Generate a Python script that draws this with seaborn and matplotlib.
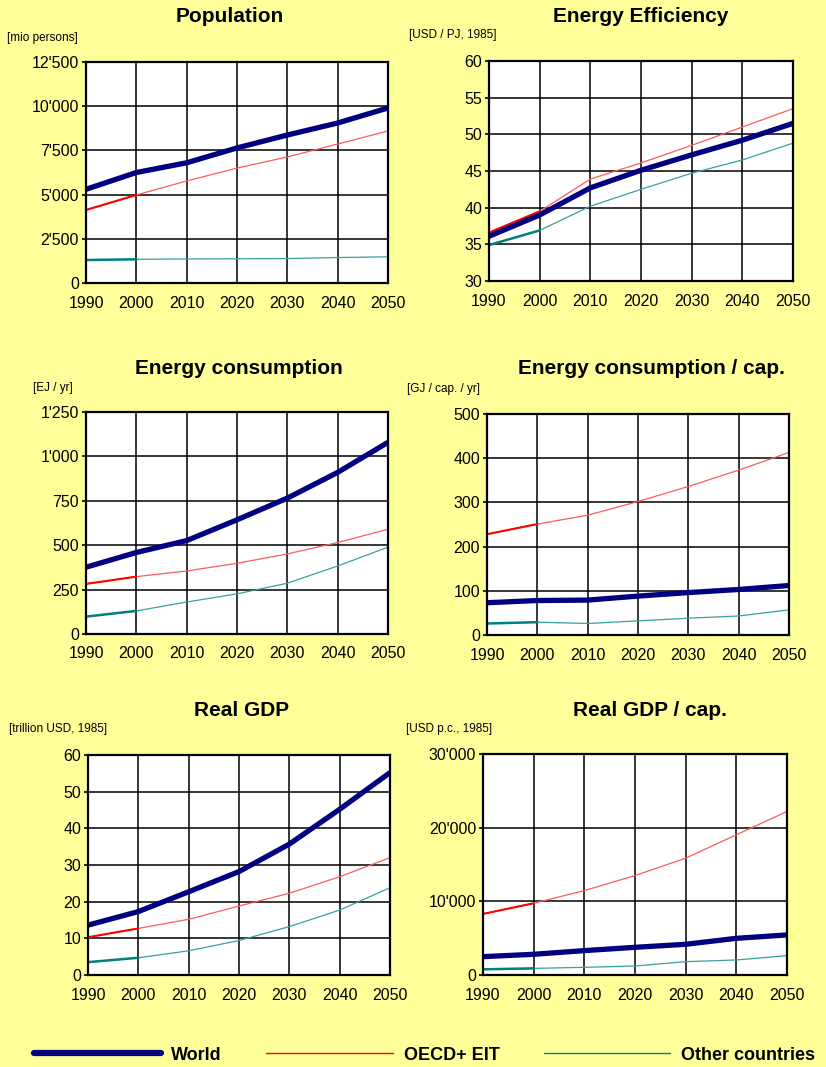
import matplotlib
matplotlib.use("Agg")
import matplotlib.pyplot as plt
from matplotlib.ticker import FuncFormatter, MultipleLocator
from matplotlib.lines import Line2D
import seaborn as sns

years = [1990, 2000, 2010, 2020, 2030, 2040, 2050]

# population [mio persons]
pop_world = [5300, 6250, 6800, 7640, 8370, 9050, 9900]
pop_oecd = [4130, 4980, 5770, 6500, 7130, 7860, 8600]
pop_other = [1300, 1340, 1360, 1370, 1380, 1440, 1480]

# energy efficiency [USD / PJ, 1985]
eff_world = [36.1, 39.0, 42.7, 45.1, 47.2, 49.2, 51.5]
eff_oecd = [36.6, 39.5, 43.9, 46.1, 48.5, 51.0, 53.5]
eff_other = [34.9, 36.9, 40.2, 42.5, 44.7, 46.5, 48.8]

# energy consumption [EJ / yr]
en_world = [376, 459, 526, 643, 765, 910, 1079]
en_oecd = [282, 323, 355, 398, 451, 515, 590]
en_other = [98, 130, 180, 226, 286, 383, 489]

# energy consumption per capita [GJ / cap. / yr]
enc_world = [73, 78, 79, 88, 96, 103, 112]
enc_oecd = [228, 251, 271, 302, 336, 373, 413]
enc_other = [26, 29, 26, 32, 38, 43, 57]

# real GDP [trillion USD, 1985]
gdp_world = [13.6, 17.3, 22.7, 28.2, 35.7, 45.2, 55.2]
gdp_oecd = [10.3, 12.7, 15.2, 18.8, 22.3, 26.8, 32.0]
gdp_other = [3.5, 4.7, 6.6, 9.4, 13.2, 17.7, 23.8]

# real GDP per capita [USD p.c., 1985]
gdpc_world = [2490, 2810, 3310, 3760, 4170, 4980, 5440]
gdpc_oecd = [8290, 9740, 11460, 13500, 15860, 19030, 22200]
gdpc_other = [770, 900, 1040, 1220, 1810, 2040, 2630]

series_names = ["World", "OECD+ EIT", "Other countries"]

sns.set_style("white")
plt.rcParams["font.family"] = ["Liberation Sans", "DejaVu Sans"]
plt.rcParams["text.color"] = "black"
plt.rcParams["axes.labelcolor"] = "black"

W, H = 826, 1067
BG = "#FFFF99"
NAVY = "#000080"


def rect(l, t, r, b):
    return [l / W, (H - b) / H, (r - l) / W, (b - t) / H]


def thousands(v, pos):
    return f"{int(round(v)):,}".replace(",", "'")


def panel(fig, box, title, title_xy, unit, unit_xy, world, oecd, other, ylim, step):
    ax = fig.add_axes(rect(*box))
    ax.set_facecolor("white")

    # thin lighter projection, stronger colour for the historic decade
    sns.lineplot(x=years, y=oecd, ax=ax, color="#FF5A5A", lw=0.9)
    sns.lineplot(x=years[:2], y=oecd[:2], ax=ax, color="#FF0000", lw=1.5)
    sns.lineplot(x=years, y=other, ax=ax, color="#3AA0A0", lw=0.9)
    sns.lineplot(x=years[:2], y=other[:2], ax=ax, color="#008080", lw=1.8)
    sns.lineplot(x=years, y=world, ax=ax, color=NAVY, lw=3.8, solid_capstyle="butt")

    ax.set_xlim(1990, 2050)
    ax.set_ylim(*ylim)
    ax.xaxis.set_major_locator(MultipleLocator(10))
    ax.yaxis.set_major_locator(MultipleLocator(step))
    ax.yaxis.set_major_formatter(FuncFormatter(thousands))
    ax.grid(True, color="black", lw=1.1)
    ax.set_axisbelow(True)
    for s in ax.spines.values():
        s.set_visible(True)
        s.set_color("black")
        s.set_linewidth(1.6)
    ax.tick_params(axis="both", labelsize=11.5, colors="black", length=3, width=1.2,
                   direction="out", left=True, bottom=False)
    ax.tick_params(axis="x", pad=6)
    ax.tick_params(axis="y", pad=2)
    ax.set_xlabel("")
    ax.set_ylabel("")

    fig.text(title_xy[0] / W, 1 - title_xy[1] / H, title, ha="center", va="center",
             fontsize=15, fontweight="bold", color="black")
    fig.text(unit_xy[0] / W, 1 - unit_xy[1] / H, unit, ha="left", va="center",
             fontsize=8.5, color="black")
    return ax


fig = plt.figure(figsize=(W / 100, H / 100), dpi=100, facecolor=BG)

panel(fig, (86, 62, 388, 283), "Population", (230, 17), "[mio persons]", (7, 38),
      pop_world, pop_oecd, pop_other, (0, 12500), 2500)
panel(fig, (489, 61, 793, 281), "Energy Efficiency", (641, 16), "[USD / PJ, 1985]", (409, 35),
      eff_world, eff_oecd, eff_other, (30, 60), 5)
panel(fig, (86, 412, 388, 634), "Energy consumption", (239, 369), "[EJ / yr]", (33, 388),
      en_world, en_oecd, en_other, (0, 1250), 250)
panel(fig, (487, 414, 789, 635), "Energy consumption / cap.", (651, 369), "[GJ / cap. / yr]", (407, 389),
      enc_world, enc_oecd, enc_other, (0, 500), 100)
panel(fig, (88, 755, 390, 975), "Real GDP", (242, 710), "[trillion USD, 1985]", (9, 729),
      gdp_world, gdp_oecd, gdp_other, (0, 60), 10)
panel(fig, (483, 754, 787, 975), "Real GDP / cap.", (650, 710), "[USD p.c., 1985]", (406, 729),
      gdpc_world, gdpc_oecd, gdpc_other, (0, 30000), 10000)

handles = [Line2D([], [], color=NAVY, lw=4.5),
           Line2D([], [], color="#FF0000", lw=1.0),
           Line2D([], [], color="#008080", lw=1.0)]
leg = fig.legend(handles, series_names, loc="center left", bbox_to_anchor=(18 / W, 12 / H),
                 ncol=3, frameon=False, handlelength=7.0, handletextpad=0.6,
                 columnspacing=2.45, prop={"size": 13, "weight": "bold"})
for t in leg.get_texts():
    t.set_color("black")

fig.savefig("out.png", dpi=100, facecolor=BG)
